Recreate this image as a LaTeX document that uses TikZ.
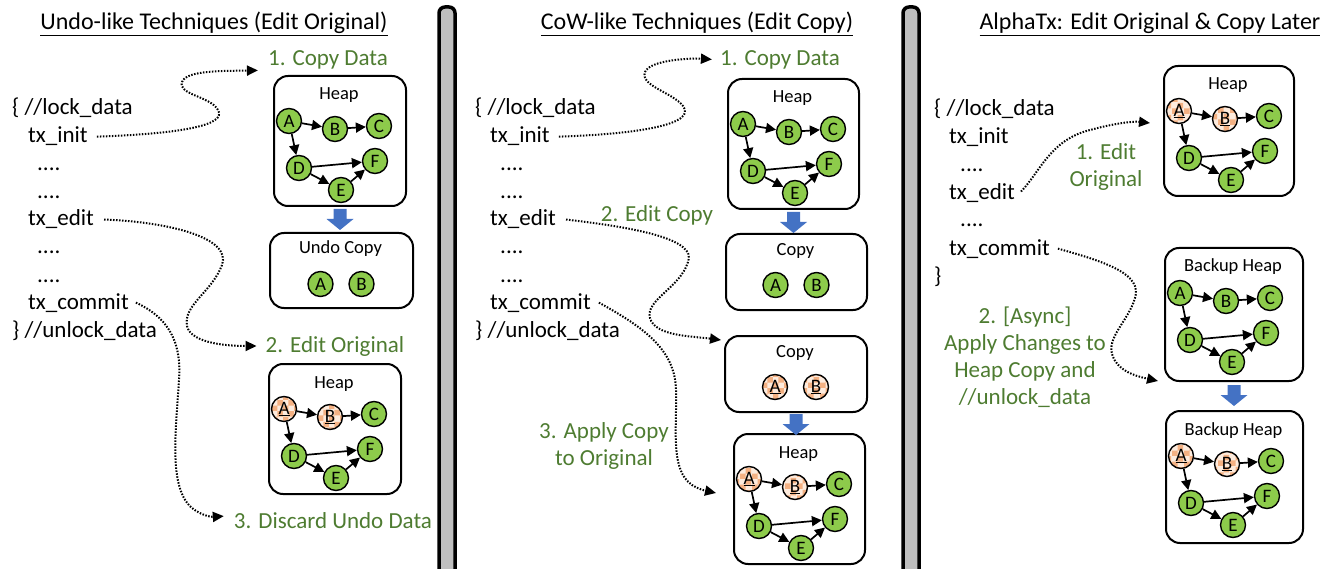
\documentclass[tikz,border=0pt]{standalone}
\usepackage{fontspec}
\setmainfont{Carlito}
\usetikzlibrary{arrows.meta,calc,patterns}
\definecolor{tgreen}{HTML}{4E7C31}
\definecolor{ngreen}{HTML}{8DCB4B}
\definecolor{norange}{HTML}{F4B183}
\definecolor{nlight}{HTML}{FDEBDD}
\definecolor{bblue}{HTML}{4472C4}
\definecolor{sepgray}{HTML}{BFBFBF}
\tikzset{
 code/.style={font=\fontsize{23}{27}\selectfont, inner sep=0pt, anchor=base west},
 glab/.style={font=\fontsize{23}{27}\selectfont, text=tgreen, inner sep=0pt, anchor=base},
 gmulti/.style={font=\fontsize{23}{27}\selectfont, text=tgreen, inner sep=0pt, align=center},
 ttl/.style={font=\fontsize{24}{28}\selectfont, inner sep=0pt, anchor=base},
 hbox/.style={draw, line width=2pt, rounded corners=14pt, inner sep=0pt},
 hlab/.style={font=\fontsize{18.5}{20}\selectfont, inner sep=0pt, anchor=base},
 gnode/.style={circle, draw, line width=1.4pt, fill=ngreen, minimum size=25pt, inner sep=0pt, font=\fontsize{19}{19}\selectfont},
 onode/.style={circle, draw, line width=1.4pt, minimum size=25pt, inner sep=0pt, font=\fontsize{19}{19}\selectfont, preaction={fill=nlight}, pattern=checkerboard, pattern color=norange},
 gedge/.style={line width=1.7pt, -{Triangle[length=10pt,width=10pt]}},
 flow/.style={line width=2pt, dash pattern=on 1.5pt off 1.5pt, -{Triangle[length=11pt,width=10pt]}},
 sepbar/.style={draw=black, line width=3.5pt, fill=sepgray, rounded corners=6pt},
 blockarr/.pic={\fill[bblue] (-6.5,0) -- (6.5,0) -- (6.5,10) -- (13.5,10) -- (0,21) -- (-13.5,10) -- (-6.5,10) -- cycle;},
}
\newcommand\glbl[1]{#1}
\newcommand\olbl[1]{\underline{#1}}
% name, x, y, w, h, label, style letter
\newcommand\heapbox[7]{%
 \node[hbox, minimum width=#4pt, minimum height=#5pt, anchor=north west] (#1) at (#2,#3) {};
 \node[hlab] (#1-t) at ($(#1.north west)+(#4/2,25)$) {#6};
 \node[#7node] (#1-A) at ($(#1.north west)+(16,46)$) {\csname #7lbl\endcsname{A}};
 \node[#7node] (#1-B) at ($(#1.north west)+(62,54)$) {\csname #7lbl\endcsname{B}};
 \node[gnode] (#1-C) at ($(#1.north west)+(106,51)$) {C};
 \node[gnode] (#1-D) at ($(#1.north west)+(26,93)$) {D};
 \node[gnode] (#1-E) at ($(#1.north west)+(68,115)$) {E};
 \node[gnode] (#1-F) at ($(#1.north west)+(102,86)$) {F};
 \draw[gedge] (#1-A) -- (#1-B);
 \draw[gedge] (#1-B) -- (#1-C);
 \draw[gedge] (#1-A) -- (#1-D);
 \draw[gedge] (#1-D) -- (#1-F);
 \draw[gedge] (#1-D) -- (#1-E);
 \draw[gedge] (#1-E) -- (#1-F);
}
\newcommand\copybox[7]{%
 \node[hbox, minimum width=#4pt, minimum height=#5pt, anchor=north west] (#1) at (#2,#3) {};
 \node[hlab] (#1-t) at ($(#1.north west)+(#4/2,22)$) {#6};
 \node[#7node] (#1-A) at ($(#1.north west)+(#4/2-20,52)$) {\csname #7lbl\endcsname{A}};
 \node[#7node] (#1-B) at ($(#1.north west)+(#4/2+21,52)$) {\csname #7lbl\endcsname{B}};
}
\begin{document}
\begin{tikzpicture}[x=1pt, y=-1pt]
\useasboundingbox (0,0) rectangle (1332,569);
% separators
\draw[sepbar] (439,600) -- (439,7) -- (455,7) -- (455,600);
\draw[sepbar] (903,600) -- (903,7) -- (919,7) -- (919,600);
% titles
\node[ttl] (T1) at (214,30) {\underline{Undo-like Techniques (Edit Original)}};
\node[ttl] (T2) at (697,30) {\underline{CoW-like Techniques (Edit Copy)}};
\node[ttl] (T3) at (1150,30) {\underline{AlphaTx: Edit Original \& Copy Later}};
% ---------- left column
\node[code] (L-lock) at (12,115) {\{ //lock\_data};
\node[code] (L-init) at (28,143) {tx\_init};
\node[code] (L-d1) at (37,171) {....};
\node[code] (L-d2) at (37,199) {....};
\node[code] (L-edit) at (28,226) {tx\_edit};
\node[code] (L-d3) at (37,254) {....};
\node[code] (L-d4) at (37,282) {....};
\node[code] (L-commit) at (28,309) {tx\_commit};
\node[code] (L-unlock) at (12,337) {\} //unlock\_data};
\node[glab] (L-c1) at (328,66) {1. Copy Data};
\node[glab] (L-e2) at (335,352) {2. Edit Original};
\node[glab] (L-e3) at (333,528) {3. Discard Undo Data};
\heapbox{L-h1}{273}{75}{132}{130}{Heap}{g}
\copybox{L-cp}{269}{232}{143}{75}{Undo Copy}{g}
\heapbox{L-h2}{268}{363}{132}{130}{Heap}{o}
\pic at ($(L-h1.south)+(0,2)$) {blockarr};
\draw[flow] ($(L-init.east)+(9,0)$) .. controls (175,134) and (228,126) .. (218,110) .. controls (210,96) and (178,95) .. (182,82) .. controls (186,70) and (225,71) .. ($(L-c1.west)+(-10,10)$);
\draw[flow] ($(L-edit.east)+(10,0)$) .. controls (170,222) and (232,238) .. (222,265) .. controls (212,292) and (183,305) .. (187,326) .. controls (191,344) and (230,346) .. ($(L-e2.west)+(-9,0)$);
\draw[flow] ($(L-commit.east)+(7,0)$) .. controls (165,316) and (182,338) .. (179,380) .. controls (176,430) and (168,488) .. (192,508) .. controls (202,516) and (212,517) .. ($(L-e3.west)+(-10,-4)$);
% ---------- middle column
\node[code] (M-lock) at (475,115) {\{ //lock\_data};
\node[code] (M-init) at (490,143) {tx\_init};
\node[code] (M-d1) at (500,171) {....};
\node[code] (M-d2) at (500,199) {....};
\node[code] (M-edit) at (490,226) {tx\_edit};
\node[code] (M-d3) at (500,254) {....};
\node[code] (M-d4) at (500,282) {....};
\node[code] (M-commit) at (490,309) {tx\_commit};
\node[code] (M-unlock) at (475,337) {\} //unlock\_data};
\node[glab] (M-c1) at (780,66) {1. Copy Data};
\node[glab] (M-e2) at (657,222) {2. Edit Copy};
\node[gmulti] (M-e3) at (604,446) {3. Apply Copy\\to Original};
\heapbox{M-h1}{727}{78}{131}{130}{Heap}{g}
\copybox{M-cp1}{725}{233}{141}{76}{Copy}{g}
\copybox{M-cp2}{724}{335}{142}{76}{Copy}{o}
\heapbox{M-h3}{733}{433}{131}{130}{Heap}{o}
\pic at ($(M-h1.south)+(0,2)$) {blockarr};
\pic at ($(M-cp2.south)+(0,1)$) {blockarr};
\draw[flow] ($(M-init.east)+(9,0)$) .. controls (640,134) and (697,124) .. (683,106) .. controls (672,92) and (640,86) .. (645,72) .. controls (650,60) and (690,58) .. ($(M-c1.west)+(-8,-1)$);
\draw[flow] ($(M-edit.east)+(10,0)$) .. controls (640,228) and (697,240) .. (688,262) .. controls (680,288) and (645,300) .. (650,318) .. controls (655,336) and (690,336) .. ($(M-cp2.north west)+(-3,5)$);
\draw[flow] ($(M-commit.east)+(8,0)$) .. controls (645,328) and (675,350) .. (676,390) .. controls (677,430) and (670,470) .. (692,485) .. controls (700,490) and (707,491) .. ($(M-h3.west)+(-17,-6)$);
% ---------- right column
\node[code] (R-lock) at (934,116) {\{ //lock\_data};
\node[code] (R-init) at (949,144) {tx\_init};
\node[code] (R-d1) at (960,172) {....};
\node[code] (R-edit) at (949,200) {tx\_edit};
\node[code] (R-d2) at (960,227) {....};
\node[code] (R-commit) at (949,255) {tx\_commit};
\node[code] (R-close) at (934,283) {\}};
\node[gmulti] (R-e1) at (1106,167) {1. Edit\\Original};
\node[gmulti] (R-e2) at (1025,357) {2. [Async]\\Apply Changes to\\Heap Copy and\\//unlock\_data};
\heapbox{R-h}{1163}{65}{130}{130}{Heap}{o}
\heapbox{R-bh1}{1164}{247}{138}{133}{Backup Heap}{g}
\heapbox{R-bh2}{1165}{410}{137}{132}{Backup Heap}{o}
\pic at ($(R-bh1.south)+(0,3)$) {blockarr};
\draw[flow] ($(R-edit.east)+(6,-2)$) .. controls (1040,172) and (1050,140) .. (1090,130) .. controls (1112,124) and (1132,121) .. ($(R-h.west)+(-13,-8)$);
\draw[flow] ($(R-commit.east)+(8,0)$) .. controls (1110,263) and (1142,275) .. (1135,298) .. controls (1128,322) and (1105,338) .. (1113,357) .. controls (1120,373) and (1140,377) .. ($(R-bh1.south west)+(-6,-1)$);
\end{tikzpicture}
\end{document}
